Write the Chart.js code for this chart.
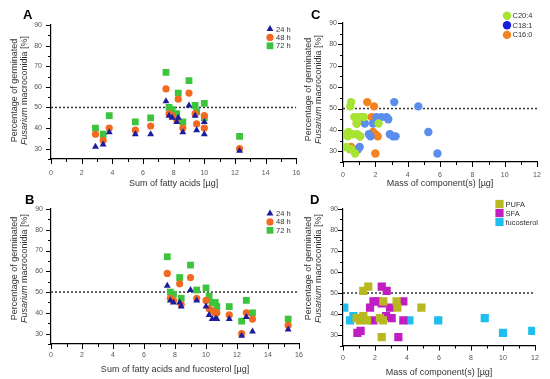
<!DOCTYPE html>
<html>
<head>
<meta charset="utf-8">
<script src="https://cdn.jsdelivr.net/npm/chart.js@4.4.1/dist/chart.umd.min.js"></script>
<style>
  body { margin: 0; background: #fff; width: 550px; height: 379px; position: relative; overflow: hidden;
         font-family: "Liberation Sans", Arial, sans-serif; }
  canvas { position: absolute; }
  .ytitle { position: absolute; width: 140px; height: 19px; font-size: 9px; line-height: 9.5px; color: #333;
            text-align: center; white-space: nowrap; transform: rotate(-90deg); }
  .letter { position: absolute; font-weight: bold; font-size: 13px; line-height: 13px; color: #000; }
</style>
</head>
<body>
<canvas id="cA" width="310" height="190" style="left:0;top:0"></canvas>
<canvas id="cB" width="310" height="189" style="left:0;top:190px"></canvas>
<canvas id="cC" width="275" height="190" style="left:275px;top:0"></canvas>
<canvas id="cD" width="275" height="189" style="left:275px;top:190px"></canvas>

<div class="letter" style="left:23px;top:8px">A</div>
<div class="letter" style="left:25px;top:193px">B</div>
<div class="letter" style="left:311px;top:8px">C</div>
<div class="letter" style="left:310px;top:193px">D</div>

<div class="ytitle" style="left:-51px;top:81px">Percentage of germinated<br><i>Fusarium</i> macroconidia [%]</div>
<div class="ytitle" style="left:-51px;top:259px">Percentage of germinated<br><i>Fusarium</i> macroconidia [%]</div>
<div class="ytitle" style="left:243px;top:80px">Percentage of germinated<br><i>Fusarium</i> macroconidia [%]</div>
<div class="ytitle" style="left:243px;top:259px">Percentage of germinated<br><i>Fusarium</i> macroconidia [%]</div>

<script>
// tick labels
const yTicks = [30, 40, 50, 60, 70, 80, 90];
const xTicksAB = [0, 2, 4, 6, 8, 10, 12, 14, 16];
const xTicksCD = [0, 2, 4, 6, 8, 10, 12];
const thresholdPct = 50;

// A: sum of fatty acids
const timeLabels = ['24 h', '48 h', '72 h'];
const faSum = [2.9, 3.4, 3.8, 5.5, 6.5, 7.5, 7.7, 7.9, 8.2, 8.3, 8.6, 9.0, 9.4, 9.5, 10.0, 10.0, 12.3];
const fa24h = [31, 32, 38, 37, 37, 53, 46, 45, 43, 45, 38, 51, 46, 39, 43, 37, 29];
const fa48h = [37, 34, 40, 39, 41, 59, 47, 46, 44, 54, 40, 57, 47, 42, 46, 40, 30];
const fa72h = [40, 37, 46, 43, 45, 67, 50, 49, 47, 57, 43, 63, 51, 48, 52, 45, 36];

// B: sum of fatty acids and fucosterol
const ffSum = [7.5, 7.7, 7.9, 8.3, 8.4, 9.0, 9.4, 10.0, 10.2, 10.4, 10.6, 10.7, 11.5, 12.3, 12.6, 13.0, 15.3];
const ff24h = [53, 46, 45, 45, 43, 51, 46, 43, 39, 37, 37, 37, 37, 29, 38, 31, 32];
const ff48h = [59, 47, 46, 54, 44, 57, 47, 46, 42, 41, 40, 40, 39, 30, 40, 37, 34];
const ff72h = [67, 50, 49, 57, 47, 63, 51, 52, 48, 45, 45, 43, 43, 36, 46, 40, 37];

// C: single fatty acids
const c204Mass = [0.5, 0.45, 0.7, 0.95, 1.3, 0.85, 2.2, 0.12, 0.35, 0.62, 0.87, 0.3, 1.05, 0.2, 0.52, 0.75];
const c204Pct  = [53, 51, 46, 46, 46, 43, 43, 38, 39, 38, 38, 37, 37, 32, 31, 29];
const c181Mass = [3.17, 4.66, 2.07, 2.38, 2.69, 2.8, 1.35, 1.86, 2.9, 3.1, 3.25, 5.28, 1.6, 1.7, 1.03, 0.93, 5.84];
const c181Pct  = [53, 51, 46, 46, 46, 45, 43, 43, 38, 37, 37, 39, 38, 37, 32, 31, 29];
const c160Mass = [1.5, 1.92, 1.2, 1.77, 0.85, 1.05, 1.85, 2.0, 2.15, 0.5, 0.45, 2.0];
const c160Pct  = [53, 51, 46, 46, 43, 37, 39, 38, 37, 32, 31, 29];

// D: compound classes
const pufaMass = [1.27, 1.58, 2.52, 3.35, 3.4, 4.9, 1.27, 1.06, 1.5, 2.3, 2.5, 2.42, 0.85];
const pufaPct  = [51, 53, 46, 46, 43, 43, 39, 37, 37, 38, 37, 29, 38];
const sfaMass  = [2.42, 2.73, 1.9, 2.15, 2.42, 2.94, 1.69, 3.77, 1.17, 1.9, 2.69, 3.04, 3.77, 0.9, 1.1, 3.46];
const sfaPct   = [53, 51, 46, 46, 45, 43, 43, 46, 38, 37, 39, 38, 37, 31, 32, 29];
const fucoMass = [0.08, 0.44, 0.65, 4.15, 5.95, 8.86, 10.0, 11.83];
const fucoPct  = [43, 37, 39, 37, 37, 38, 31, 32];

const FONT = '"Liberation Sans", Arial, sans-serif';
Chart.defaults.font.family = FONT;

function pts(xs, ys) { return xs.map((x, i) => ({x: x, y: ys[i]})); }

function marker(ctx, style, r, x, y) {
  ctx.beginPath();
  if (style === 'circle') {
    ctx.arc(x, y, r, 0, Math.PI * 2);
  } else if (style === 'rect') {
    const h = r * Math.SQRT1_2;
    ctx.rect(x - h, y - h, 2 * h, 2 * h);
  } else {
    ctx.moveTo(x, y - r);
    ctx.lineTo(x + r * Math.sin(Math.PI * 2 / 3), y - r * Math.cos(Math.PI * 2 / 3));
    ctx.lineTo(x + r * Math.sin(Math.PI * 4 / 3), y - r * Math.cos(Math.PI * 4 / 3));
    ctx.closePath();
  }
  ctx.fill();
}

// major / minor tick marks on both axes
const axisTicks = {
  id: 'axisTicks',
  afterDraw(chart) {
    const {ctx, chartArea, scales: {x, y}} = chart;
    ctx.save();
    ctx.strokeStyle = '#000';
    ctx.lineWidth = 1;
    ctx.beginPath();
    for (let v = x.min; v <= x.max + 1e-6; v += 1) {
      const px = Math.round(x.getPixelForValue(v)) + 0.5;
      ctx.moveTo(px, chartArea.bottom);
      ctx.lineTo(px, chartArea.bottom + (v % 2 === 0 ? 5 : 3));
    }
    for (let v = y.min; v <= y.max + 1e-6; v += 5) {
      const py = Math.round(y.getPixelForValue(v)) + 0.5;
      ctx.moveTo(chartArea.left, py);
      ctx.lineTo(chartArea.left - (v % 10 === 0 ? 5 : 3), py);
    }
    ctx.stroke();
    ctx.restore();
  }
};

// small legend in the corner
const boxLegend = {
  id: 'boxLegend',
  afterDraw(chart, args, o) {
    const ctx = chart.ctx;
    ctx.save();
    ctx.font = o.size + 'px ' + FONT;
    ctx.textBaseline = 'middle';
    chart.data.datasets.filter(ds => ds.label).forEach((ds, i) => {
      const y = o.y + i * o.dy;
      ctx.fillStyle = ds.legendColor || ds.backgroundColor;
      marker(ctx, ds.pointStyle, ds.legendRadius || ds.pointRadius, o.x, y);
      ctx.fillStyle = '#333';
      ctx.fillText(ds.label, o.x + o.gap, y + 0.5);
    });
    ctx.restore();
  }
};

function series(label, xs, ys, style, r, color, extra) {
  return Object.assign({
    label: label, data: pts(xs, ys), pointStyle: style, pointRadius: r,
    backgroundColor: color, borderWidth: 0, pointBorderWidth: 0
  }, extra || {});
}

function panel(id, p) {
  const xMax = p.xTicks[p.xTicks.length - 1];
  const datasets = p.datasets.concat([{
    type: 'line', data: [{x: 0, y: thresholdPct}, {x: xMax, y: thresholdPct}],
    borderColor: '#333', borderWidth: 1.5, borderDash: [2, 2], pointRadius: 0, order: 10
  }]);
  return new Chart(document.getElementById(id), {
    type: 'scatter',
    data: { datasets: datasets },
    options: {
      responsive: false,
      animation: false,
      layout: { padding: p.pad },
      plugins: { legend: { display: false }, tooltip: { enabled: false }, boxLegend: p.legend },
      scales: {
        x: {
          type: 'linear', min: 0, max: xMax,
          grid: { display: false, drawTicks: false },
          border: { color: '#000', width: 1.2 },
          ticks: { font: { size: 7 }, color: '#555', padding: p.xPad },
          afterBuildTicks: s => { s.ticks = p.xTicks.map(v => ({value: v})); },
          afterFit: s => { s.height = p.xH; },
          title: { display: true, text: p.xTitle, font: { size: 9 }, color: '#333',
                   padding: { top: 0, bottom: p.tPad } }
        },
        y: {
          type: 'linear', min: 25, max: 90,
          grid: { display: false, drawTicks: false },
          border: { color: '#000', width: 1.2 },
          ticks: { font: { size: 7 }, color: '#555', padding: p.yPad },
          afterBuildTicks: s => { s.ticks = yTicks.map(v => ({value: v})); },
          afterFit: s => { s.width = p.yW; }
        }
      }
    },
    plugins: [axisTicks, boxLegend]
  });
}

const navy = '#1c1c9c', orange = '#f26a22', green = '#3cc43c';

panel('cA', {
  xTicks: xTicksAB, xTitle: 'Sum of fatty acids [µg]',
  pad: { left: 0, top: 25, right: 9, bottom: 0 }, yW: 51, xH: 31, xPad: 9.8, yPad: 9, tPad: 0.6,
  legend: { x: 270, y: 29, dy: 8.4, gap: 6, size: 7.5 },
  datasets: [
    series(timeLabels[0], faSum, fa24h, 'triangle', 4, navy),
    series(timeLabels[1], faSum, fa48h, 'circle', 3.6, orange),
    series(timeLabels[2], faSum, fa72h, 'rect', 4.8, green)
  ]
});

panel('cB', {
  xTicks: xTicksAB, xTitle: 'Sum of fatty acids and fucosterol [µg]',
  pad: { left: 0, top: 19, right: 10, bottom: 0 }, yW: 51, xH: 35, xPad: 7.1, yPad: 8, tPad: 3.6,
  legend: { x: 270, y: 23.5, dy: 8.4, gap: 6, size: 7.5 },
  datasets: [
    series(timeLabels[0], ffSum, ff24h, 'triangle', 4, navy),
    series(timeLabels[1], ffSum, ff48h, 'circle', 3.6, orange),
    series(timeLabels[2], ffSum, ff72h, 'rect', 4.8, green)
  ]
});

panel('cC', {
  xTicks: xTicksCD, xTitle: 'Mass of component(s) [µg]',
  pad: { left: 0, top: 23, right: 13, bottom: 0 }, yW: 68, xH: 28, xPad: 8.8, yPad: 6, tPad: 0.6,
  legend: { x: 232, y: 15.7, dy: 9.6, gap: 5.5, size: 7.5 },
  datasets: [
    series('C20:4', c204Mass, c204Pct, 'circle', 4.2, '#a6e432'),
    series('C18:1', c181Mass, c181Pct, 'circle', 4.2, '#5b8dec', { legendColor: '#1a1ae0' }),
    series('C16:0', c160Mass, c160Pct, 'circle', 4.2, '#f5821f')
  ]
});

panel('cD', {
  xTicks: xTicksCD, xTitle: 'Mass of component(s) [µg]',
  pad: { left: 0, top: 19, right: 15, bottom: 0 }, yW: 68, xH: 33.5, xPad: 8.3, yPad: 5, tPad: 0.6,
  legend: { x: 224.5, y: 14, dy: 9, gap: 6, size: 7.5 },
  datasets: [
    series('PUFA', pufaMass, pufaPct, 'rect', 5.8, '#b8b820'),
    series('SFA', sfaMass, sfaPct, 'rect', 5.8, '#c01ec0'),
    series('fucosterol', fucoMass, fucoPct, 'rect', 5.8, '#1ebef0')
  ]
});
</script>
</body>
</html>
